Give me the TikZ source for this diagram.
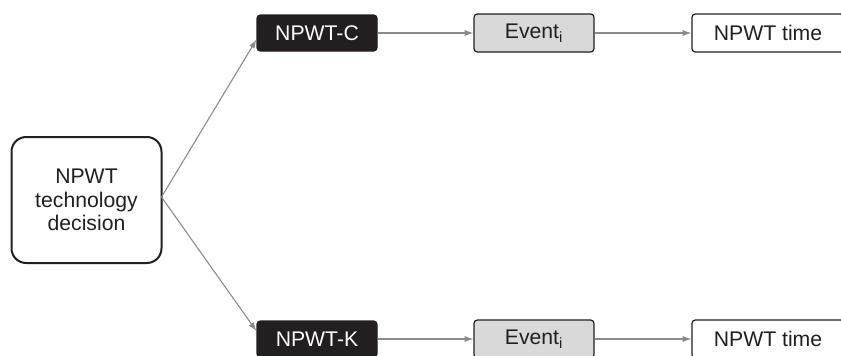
\documentclass[tikz,border=0pt]{standalone}
\usepackage{fontspec}
\setmainfont{Liberation Sans}
\usetikzlibrary{arrows.meta}
\definecolor{ink}{HTML}{231F20}
\definecolor{linegray}{HTML}{8A8A8A}
\definecolor{eventfill}{HTML}{D9D9D9}
\tikzset{
  box/.style={draw=ink, line width=0.9pt, rounded corners=2.5pt, inner sep=0pt,
    text=ink, font=\fontsize{15.9}{18}\selectfont, align=center},
  treatbox/.style={box, fill=ink, text=white, minimum width=90pt, minimum height=27pt},
  eventbox/.style={box, fill=eventfill, minimum width=90pt, minimum height=28.5pt},
  timebox/.style={box, fill=white, minimum width=114pt, minimum height=28.5pt},
  decisionbox/.style={box, line width=1.5pt, rounded corners=11pt,
    minimum width=112.5pt, minimum height=94.5pt,
    font=\fontsize{15.9}{17.5}\selectfont},
  link/.style={draw=linegray, line width=0.8pt,
    -{Latex[length=6.5pt, width=4.5pt, fill=linegray]}}
}
\begin{document}
\begin{tikzpicture}[x=0.75pt, y=-0.75pt]
  \clip (0,0) rectangle (841,355);
  \fill[white] (0,0) rectangle (841,355);

  % decision node
  \node[decisionbox] (dec) at (86.5,200) {NPWT\\technology\\decision};

  % upper branch
  \node[treatbox] (c) at (317,33) {NPWT-C};
  \node[eventbox] (ec) at (534,33) {Event\textsubscript{i}};
  \node[timebox]  (tc) at (768,33) {NPWT time};

  % lower branch
  \node[treatbox] (k) at (317,339) {NPWT-K};
  \node[eventbox] (ek) at (534,339) {Event\textsubscript{i}};
  \node[timebox]  (tk) at (768,339) {NPWT time};

  % connectors
  \coordinate (split) at (161.5,197);
  \draw[link] (split) -- ([yshift=-5pt]c.west);
  \draw[link] (split) -- ([yshift=6pt]k.west);
  \draw[link] (c) -- (ec);
  \draw[link] (ec) -- (tc);
  \draw[link] (k) -- (ek);
  \draw[link] (ek) -- (tk);
\end{tikzpicture}
\end{document}
